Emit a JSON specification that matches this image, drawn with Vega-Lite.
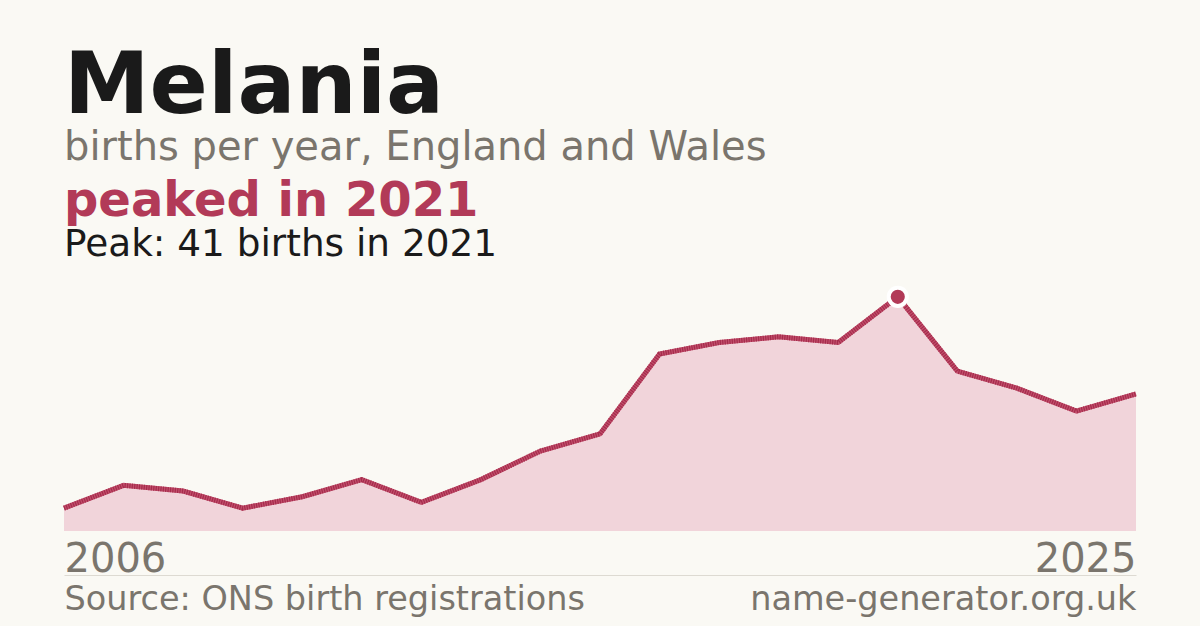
{
  "$schema": "https://vega.github.io/schema/vega-lite/v6.json",
  "background": "#faf9f4",
  "padding": {"left": 54, "right": 54, "top": 43, "bottom": 10},
  "autosize": {"type": "pad"},
  "title": {
    "text": "Melania",
    "subtitle": "births per year, England and Wales",
    "anchor": "start",
    "dx": 10,
    "font": "DejaVu Sans",
    "fontSize": 86,
    "fontWeight": "bold",
    "color": "#1a1a1a",
    "subtitleFont": "DejaVu Sans",
    "subtitleFontSize": 40,
    "subtitleColor": "#7a756d",
    "subtitlePadding": -3,
    "offset": 9
  },
  "data": {
    "values": [
      {"year": 2007, "births": 4},
      {"year": 2008, "births": 8},
      {"year": 2009, "births": 7},
      {"year": 2010, "births": 4},
      {"year": 2011, "births": 6},
      {"year": 2012, "births": 9},
      {"year": 2013, "births": 5},
      {"year": 2014, "births": 9},
      {"year": 2015, "births": 14},
      {"year": 2016, "births": 17},
      {"year": 2017, "births": 31},
      {"year": 2018, "births": 33},
      {"year": 2019, "births": 34},
      {"year": 2020, "births": 33},
      {"year": 2021, "births": 41},
      {"year": 2022, "births": 28},
      {"year": 2023, "births": 25},
      {"year": 2024, "births": 21},
      {"year": 2025, "births": 24}
    ]
  },
  "bounds": "flush",
  "spacing": 43,
  "vconcat": [
    {
      "width": 1072,
      "height": 257,
      "title": {
        "text": "peaked in 2021",
        "subtitle": "Peak: 41 births in 2021",
        "anchor": "start",
        "dx": 10,
        "font": "DejaVu Sans",
        "fontSize": 48,
        "fontWeight": "bold",
        "color": "#b23a58",
        "subtitleFont": "DejaVu Sans",
        "subtitleFontSize": 37.4,
        "subtitleColor": "#1a1a1a",
        "subtitlePadding": 0,
        "offset": 11
      },
      "encoding": {
        "x": {
          "field": "year",
          "type": "quantitative",
          "scale": {"domain": [2007, 2025], "nice": false, "zero": false},
          "axis": {
            "title": null,
            "values": [2007, 2025],
            "labelExpr": "datum.value == 2007 ? '2006' : '2025'",
            "labelFlush": true,
            "labelFontSize": 40,
            "labelColor": "#7a756d",
            "labelPadding": 8,
            "domain": false,
            "ticks": false,
            "grid": false
          }
        },
        "y": {
          "field": "births",
          "type": "quantitative",
          "scale": {"domain": [0, 45], "nice": false},
          "axis": null
        }
      },
      "layer": [
        {"mark": {"type": "area", "color": "#f1d4da", "opacity": 1}},
        {"mark": {"type": "line", "color": "#c24f6c", "strokeWidth": 5}},
        {"mark": {"type": "line", "color": "#a52c4c", "strokeWidth": 5, "strokeDash": [1.2, 1.2]}},
        {
          "transform": [{"filter": "datum.year == 2021"}],
          "mark": {"type": "circle", "color": "#ffffff", "opacity": 1, "size": 490}
        },
        {
          "transform": [{"filter": "datum.year == 2021"}],
          "mark": {"type": "circle", "color": "#b23a58", "opacity": 1, "size": 200}
        }
      ]
    },
    {
      "width": 1072,
      "height": 1,
      "data": {"values": [{"pos": 0}, {"pos": 1}]},
      "mark": {"type": "point", "opacity": 0},
      "encoding": {
        "x": {
          "field": "pos",
          "type": "quantitative",
          "scale": {"domain": [0, 1], "nice": false},
          "axis": {
            "title": null,
            "orient": "bottom",
            "values": [0, 1],
            "labelExpr": "datum.value == 0 ? 'Source: ONS birth registrations' : 'name-generator.org.uk'",
            "labelFlush": true,
            "labelLimit": 0,
            "labelFontSize": 33.5,
            "labelColor": "#7a756d",
            "labelPadding": 8,
            "domain": true,
            "domainColor": "#dddad2",
            "domainWidth": 1,
            "ticks": false,
            "grid": false
          }
        }
      }
    }
  ],
  "config": {
    "font": "DejaVu Sans",
    "view": {"stroke": null}
  }
}
